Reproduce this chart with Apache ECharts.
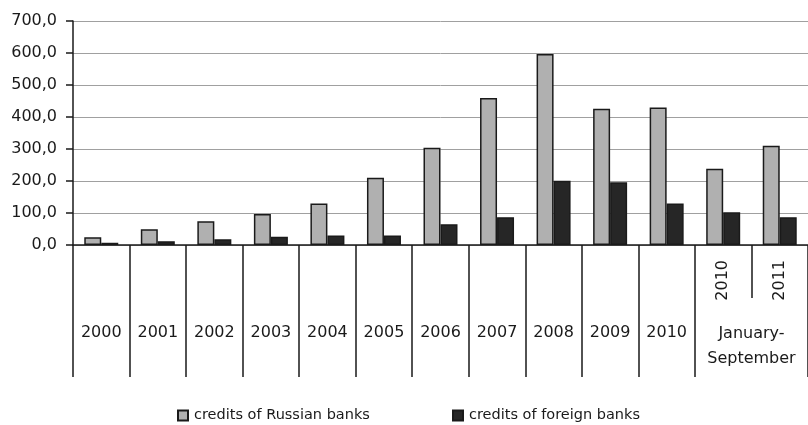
<!DOCTYPE html>
<html>
<head>
<meta charset="utf-8">
<script src="https://cdn.jsdelivr.net/npm/echarts@6/dist/echarts.min.js"></script>
<style>
  html, body { margin: 0; padding: 0; background: #ffffff; }
  #chart { width: 808px; height: 425px; }
</style>
</head>
<body>
<div id="chart"></div>
<script>
// Credits to the economy, by year; the last two columns cover January-September
const categories = ['2000', '2001', '2002', '2003', '2004', '2005', '2006', '2007', '2008', '2009', '2010', '2010', '2011'];
const yearLabels = ['2000', '2001', '2002', '2003', '2004', '2005', '2006', '2007', '2008', '2009', '2010', '', ''];
const periodYearLabels = ['', '', '', '', '', '', '', '', '', '', '', '2010', '2011'];
const periodLabel = 'January-\nSeptember';
const russianBanks = [24, 49, 74, 97, 130, 210, 304, 459, 597, 426, 430, 238, 310];
const foreignBanks = [7, 12, 18, 26, 30, 30, 65, 87, 201, 196, 130, 102, 87];
const yTicks = [0, 100, 200, 300, 400, 500, 600, 700];

const FONT = 'DejaVu Sans';
const INK = '#1a1a1a';

const chart = echarts.init(document.getElementById('chart'), null, { renderer: 'canvas' });

const plotLeft = 73;
const plotTop = 21;
const bandWidth = 57;

function legendBlock(name, left) {
  return {
    data: [name],
    left: left,
    top: 403,
    icon: 'rect',
    itemWidth: 10,
    itemHeight: 10,
    itemGap: 0,
    textStyle: { fontFamily: FONT, fontSize: 14.5, color: INK, padding: [0, 0, 0, 1] }
  };
}

chart.setOption({
  animation: false,
  backgroundColor: '#ffffff',
  textStyle: { fontFamily: FONT, color: INK },
  grid: {
    left: plotLeft,
    top: plotTop,
    width: bandWidth * categories.length,
    height: 224,
    containLabel: false
  },
  legend: [
    legendBlock('credits of Russian banks', 172),
    legendBlock('credits of foreign banks', 447)
  ],
  xAxis: [
    {
      // main category axis: long dividers between columns, year labels
      type: 'category',
      data: categories,
      position: 'bottom',
      boundaryGap: true,
      axisLine: { show: true, lineStyle: { color: INK, width: 1.5 } },
      axisTick: {
        show: true,
        length: 132,
        interval: function (index) { return index !== 12; },
        lineStyle: { color: INK, width: 1.5 }
      },
      axisLabel: {
        interval: 0,
        margin: 80,
        fontFamily: FONT,
        fontSize: 16,
        color: INK,
        formatter: function (v, i) { return yearLabels[i]; }
      },
      splitLine: { show: false }
    },
    {
      // short divider and vertical year labels inside the January-September group
      type: 'category',
      data: categories,
      position: 'bottom',
      boundaryGap: true,
      axisLine: { show: false },
      axisTick: {
        show: true,
        length: 53,
        interval: function (index) { return index === 11 || index === 12; },
        lineStyle: { color: INK, width: 1.5 }
      },
      axisLabel: {
        interval: 0,
        rotate: 90,
        margin: 15,
        fontFamily: FONT,
        fontSize: 16,
        color: INK,
        formatter: function (v, i) { return periodYearLabels[i]; }
      },
      splitLine: { show: false }
    },
    {
      // group caption centred under the two January-September columns
      type: 'value',
      min: 0,
      max: categories.length,
      interval: 1,
      position: 'bottom',
      axisLine: { show: false },
      axisTick: { show: false },
      splitLine: { show: false },
      axisLabel: {
        margin: 76,
        fontFamily: FONT,
        fontSize: 16,
        lineHeight: 25,
        color: INK,
        showMinLabel: false,
        showMaxLabel: false,
        hideOverlap: false,
        formatter: function (v) { return v === categories.length - 1 ? periodLabel : ''; }
      }
    }
  ],
  yAxis: {
    type: 'value',
    min: yTicks[0],
    max: yTicks[yTicks.length - 1],
    interval: 100,
    axisLine: { show: true, lineStyle: { color: INK, width: 1.5 } },
    axisTick: { show: true, length: 7, lineStyle: { color: INK, width: 1.5 } },
    axisLabel: {
      margin: 16,
      fontFamily: FONT,
      fontSize: 16,
      color: INK,
      formatter: function (v) { return v.toFixed(1).replace('.', ','); }
    },
    splitLine: { show: true, lineStyle: { color: '#a0a0a0', width: 1 } }
  },
  series: [
    {
      name: 'credits of Russian banks',
      type: 'bar',
      xAxisIndex: 0,
      data: russianBanks,
      barWidth: 17,
      barGap: '0%',
      itemStyle: { color: '#b0b0b0', borderColor: INK, borderWidth: 1.5 }
    },
    {
      name: 'credits of foreign banks',
      type: 'bar',
      xAxisIndex: 0,
      data: foreignBanks,
      barWidth: 17,
      barGap: '0%',
      itemStyle: { color: '#262626', borderColor: INK, borderWidth: 1.5 }
    }
  ]
});
</script>
</body>
</html>
